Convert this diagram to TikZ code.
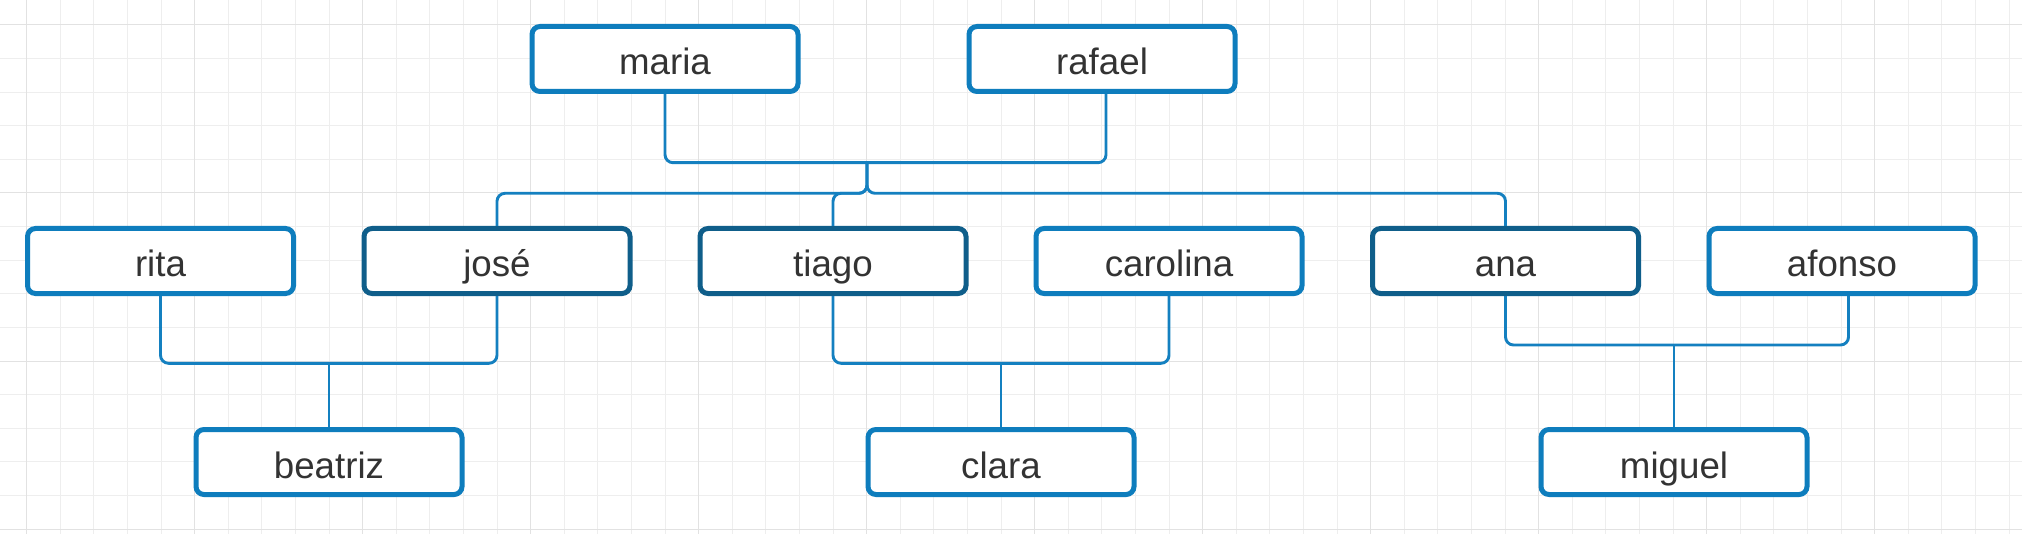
\documentclass[tikz,border=0pt]{standalone}
\usepackage{fontspec}
\setmainfont{Liberation Sans}
\definecolor{boxlight}{RGB}{14,125,189}
\definecolor{boxdark}{RGB}{15,94,138}
\definecolor{linkc}{RGB}{20,128,192}
\definecolor{txt}{RGB}{51,51,51}
\definecolor{gridminor}{RGB}{238,238,238}
\definecolor{gridmajor}{RGB}{226,226,226}
\begin{document}
\begin{tikzpicture}[x=0.5pt,y=-0.5pt,
  person/.style={draw=boxlight, line width=2.5pt, rounded corners=4pt, fill=white,
    minimum width=133pt, minimum height=32.5pt, inner sep=0pt, text=txt,
    font=\fontsize{18.35pt}{20pt}\selectfont, text height=16pt, text depth=0pt},
  blood/.style={person, draw=boxdark},
  link/.style={draw=linkc, line width=1.45pt, rounded corners=4pt},
  gminor/.style={draw=gridminor, line width=0.5pt},
  gmajor/.style={draw=gridmajor, line width=0.5pt}]
\useasboundingbox (0,0) rectangle (2022,534);
\fill[white] (0,0) rectangle (2022,534);
% grid
\foreach \k in {0,...,59} { \draw[gminor] ({26.7+33.6*\k},0) -- ({26.7+33.6*\k},534); }
\foreach \k in {0,...,15} { \draw[gminor] (0,{25+33.6*\k}) -- (2022,{25+33.6*\k}); }
\foreach \k in {0,5,...,55} { \draw[gmajor] ({26.7+33.6*\k},0) -- ({26.7+33.6*\k},534); }
\foreach \k in {0,5,10,15} { \draw[gmajor] (0,{25+33.6*\k}) -- (2022,{25+33.6*\k}); }
% nodes
\node[person] (maria) at (665,59) {maria};
\node[person] (rafael) at (1102,59) {rafael};
\node[person] (rita) at (160.5,261) {rita};
\node[blood] (jose) at (497,261) {josé};
\node[blood] (tiago) at (833,261) {tiago};
\node[person] (carolina) at (1169,261) {carolina};
\node[blood] (ana) at (1505.5,261) {ana};
\node[person] (afonso) at (1842,261) {afonso};
\node[person] (beatriz) at (329,462) {beatriz};
\node[person] (clara) at (1001,462) {clara};
\node[person] (miguel) at (1674,462) {miguel};
% junctions
\coordinate (pj) at (867,162.7);
\coordinate (split) at (867,193.3);
\coordinate (c1) at (329,363.3);
\coordinate (c2) at (1001,363.3);
\coordinate (c3) at (1674,345);
% parents
\draw[link] (maria.south) |- (pj) -| ([xshift=2pt]rafael.south);
\draw[link] (pj) -- (split) -| (jose.north);
\draw[link] (pj) -- (split) -| (tiago.north);
\draw[link] (pj) -- (split) -| (ana.north);
% couples
\draw[link] (rita.south) |- (c1) -| (jose.south);
\draw[link] (c1) -- (beatriz.north);
\draw[link] (tiago.south) |- (c2) -| (carolina.south);
\draw[link] (c2) -- (clara.north);
\draw[link] (ana.south) |- (c3) -| ([xshift=3.25pt]afonso.south);
\draw[link] (c3) -- (miguel.north);
\end{tikzpicture}
\end{document}
